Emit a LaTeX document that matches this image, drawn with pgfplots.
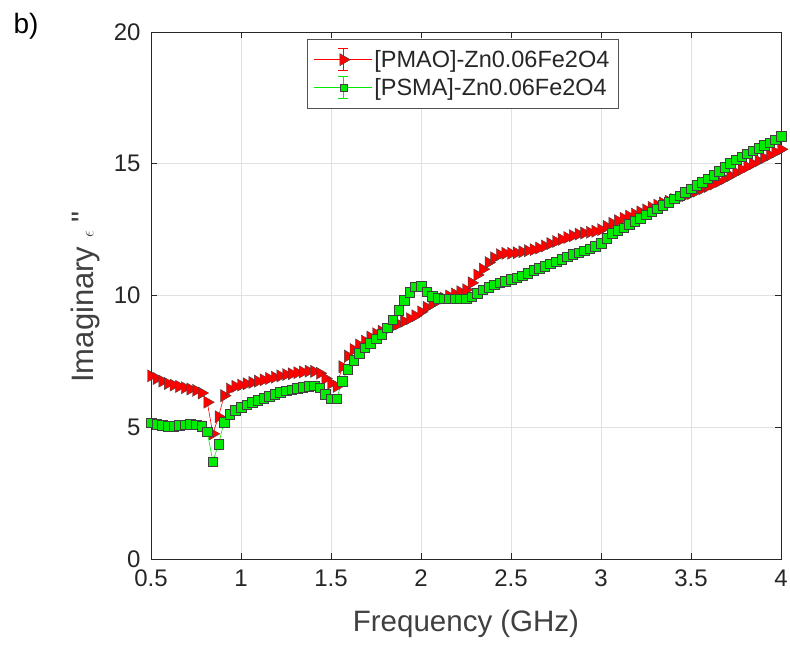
\documentclass[border=0pt]{standalone}
\usepackage{pgfplots}
\pgfplotsset{compat=1.18}
\usepackage{pgfplotstable}
\usepackage{fontspec}
\setmainfont{Liberation Sans}
\newfontfamily\plainfont{Liberation Sans}
\usetikzlibrary{calc}
\definecolor{axgray}{RGB}{38,38,38}
\definecolor{labgray}{RGB}{64,64,64}
\definecolor{gridgray}{RGB}{225,225,225}
\definecolor{mred}{RGB}{255,0,0}
\definecolor{mgreen}{RGB}{0,235,0}

\pgfplotstableread{
x pmao psma
0.5 6.95 5.17
0.5313 6.85 5.12
0.5625 6.75 5.08
0.5938 6.66 5.05
0.625 6.6 5.05
0.6563 6.55 5.07
0.6875 6.5 5.1
0.7188 6.45 5.11
0.75 6.4 5.1
0.7813 6.3 5.05
0.8125 5.95 4.83
0.8438 4.75 3.7
0.875 5.4 4.35
0.9063 6.2 5.2
0.9375 6.45 5.5
0.9688 6.55 5.65
1.0 6.6 5.75
1.0313 6.65 5.85
1.0625 6.7 5.95
1.0938 6.75 6.03
1.125 6.8 6.1
1.1563 6.85 6.18
1.1875 6.9 6.25
1.2188 6.95 6.32
1.25 7.0 6.38
1.2813 7.03 6.43
1.3125 7.07 6.48
1.3438 7.1 6.52
1.375 7.13 6.56
1.4063 7.12 6.58
1.4375 7.05 6.5
1.4688 6.85 6.25
1.5 6.67 6.08
1.5313 6.55 6.08
1.5625 7.3 6.75
1.5938 7.7 7.2
1.625 7.95 7.55
1.6563 8.12 7.82
1.6875 8.27 8.02
1.7188 8.42 8.18
1.75 8.55 8.36
1.7813 8.64 8.54
1.8125 8.72 8.78
1.8438 8.82 9.08
1.875 8.92 9.45
1.9063 9.02 9.82
1.9375 9.12 10.13
1.9688 9.23 10.33
2.0 9.38 10.35
2.0313 9.55 10.15
2.0625 9.68 9.98
2.0938 9.8 9.9
2.125 9.9 9.88
2.1563 9.98 9.88
2.1875 10.06 9.88
2.2188 10.14 9.88
2.25 10.22 9.88
2.2813 10.48 9.95
2.3125 10.78 10.08
2.3438 11.0 10.22
2.375 11.25 10.32
2.4063 11.43 10.41
2.4375 11.55 10.48
2.4688 11.6 10.55
2.5 11.6 10.62
2.5313 11.62 10.68
2.5625 11.66 10.75
2.5938 11.7 10.85
2.625 11.74 10.95
2.6563 11.8 11.04
2.6875 11.88 11.12
2.7188 11.97 11.2
2.75 12.05 11.28
2.7813 12.13 11.38
2.8125 12.2 11.47
2.8438 12.27 11.56
2.875 12.33 11.63
2.9063 12.37 11.7
2.9375 12.4 11.78
2.9688 12.44 11.88
3.0 12.5 11.98
3.0313 12.62 12.18
3.0625 12.74 12.36
3.0938 12.84 12.47
3.125 12.93 12.58
3.1563 13.01 12.7
3.1875 13.09 12.82
3.2188 13.17 12.94
3.25 13.25 13.06
3.2813 13.34 13.18
3.3125 13.43 13.3
3.3438 13.51 13.43
3.375 13.58 13.55
3.4063 13.64 13.67
3.4375 13.71 13.79
3.4688 13.79 13.92
3.5 13.87 14.05
3.5313 13.96 14.18
3.5625 14.05 14.3
3.5938 14.14 14.43
3.625 14.23 14.57
3.6563 14.33 14.72
3.6875 14.44 14.87
3.7188 14.55 15.02
3.75 14.67 15.15
3.7813 14.78 15.27
3.8125 14.89 15.38
3.8438 15.0 15.5
3.875 15.11 15.6
3.9063 15.22 15.7
3.9375 15.33 15.8
3.9688 15.44 15.92
4.0 15.55 16.05
}\datatable

\begin{document}
\begin{tikzpicture}
\begin{axis}[
  scale only axis, width=630pt, height=527pt,
  xmin=0.5, xmax=4, ymin=0, ymax=20,
  xtick={0.5,1,1.5,2,2.5,3,3.5,4},
  xticklabels={0.5,1,1.5,2,2.5,3,3.5,4},
  ytick={0,5,10,15,20},
  yticklabels={0,5,10,15,20},
  tick align=inside, major tick length=6pt,
  grid=major, grid style={gridgray, line width=0.8pt},
  axis line style={axgray, line width=0.9pt},
  every tick/.style={axgray, line width=0.9pt},
  tick label style={font=\fontsize{24}{28}\selectfont, text=axgray},
  xticklabel style={yshift=-7pt},
  yticklabel style={xshift=-7pt},
  xlabel={Frequency (GHz)},
  ylabel={Imaginary {\fontsize{18}{20}\selectfont$\epsilon$} {\plainfont "}},
  xlabel style={font=\fontsize{29.5}{34}\selectfont, text=labgray,
    at={(axis description cs:0.5,-0.124)}, anchor=center},
  ylabel style={font=\fontsize{31}{36}\selectfont, text=labgray,
    at={(axis description cs:-0.104,0.497)}, anchor=center},
  clip=false,
  legend style={at={(axis description cs:0.495,0.987)}, anchor=north,
    font=\fontsize{23.5}{26}\selectfont, text=axgray, draw=axgray!80,
    line width=0.6pt, fill=white, inner xsep=7pt, inner ysep=9pt, row sep=5pt},
  legend cell align=left,
]
\addplot[mred, line width=0.6pt, mark=triangle*, mark size=7pt,
  mark options={rotate=-90, fill=mred, draw=black!75, line width=0.4pt},
  legend image code/.code={
    \fill[fill=mred, draw=none] (0pt,-0.5pt) rectangle (58pt,0.5pt);
    \fill[fill=mred, draw=none] (28.5pt,-11pt) rectangle (29.5pt,11pt);
    \fill[fill=mred, draw=none] (24pt,-11.5pt) rectangle (34pt,-10.5pt);
    \fill[fill=mred, draw=none] (24pt,10.5pt) rectangle (34pt,11.5pt);
    \draw[color=mred, mark=triangle*, mark size=7pt,
      mark options={rotate=-90, fill=mred, draw=black!75, line width=0.4pt}] plot coordinates {(29pt,0pt)};
  }]
  table[x=x, y=pmao] {\datatable};
\addlegendentry{[PMAO]-Zn0.06Fe2O4}
\addplot[mgreen, line width=0.6pt, mark=square*, mark size=4.8pt,
  mark options={fill=mgreen, draw=black!75, line width=0.4pt},
  legend image code/.code={
    \fill[fill=mgreen, draw=none] (0pt,-0.5pt) rectangle (58pt,0.5pt);
    \fill[fill=mgreen, draw=none] (28.5pt,-11pt) rectangle (29.5pt,11pt);
    \fill[fill=mgreen, draw=none] (24pt,-11.5pt) rectangle (34pt,-10.5pt);
    \fill[fill=mgreen, draw=none] (24pt,10.5pt) rectangle (34pt,11.5pt);
    \draw[color=mgreen, mark=square*, mark size=3.6pt,
      mark options={fill=mgreen, draw=black!75, line width=0.4pt}] plot coordinates {(29pt,0pt)};
  }]
  table[x=x, y=psma] {\datatable};
\addlegendentry{[PSMA]-Zn0.06Fe2O4}
\end{axis}
\node[anchor=base west, font=\fontsize{28}{32}\selectfont] at ($(current axis.north west)+(-141pt,-2pt)$) {b)};
\pgfresetboundingbox
\path[use as bounding box] ($(current axis.south west)+(-151pt,-88pt)$) rectangle ($(current axis.north east)+(9pt,32pt)$);
\end{tikzpicture}
\end{document}
